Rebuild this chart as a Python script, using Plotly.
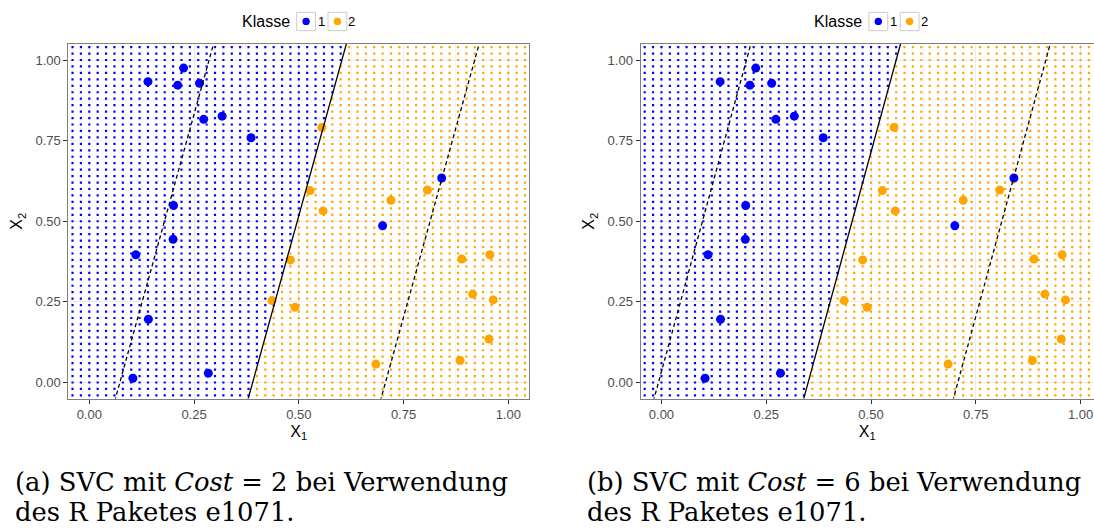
import numpy as np
import plotly.graph_objects as go

# Beobachtungen (X1, X2) je Klasse
klasse1_x1 = [0.140, 0.225, 0.211, 0.263, 0.273, 0.317, 0.386, 0.201, 0.200, 0.111, 0.141, 0.104, 0.284, 0.841, 0.700]
klasse1_x2 = [0.933, 0.975, 0.922, 0.928, 0.816, 0.826, 0.759, 0.549, 0.444, 0.396, 0.196, 0.013, 0.029, 0.634, 0.486]
klasse2_x1 = [0.480, 0.436, 0.491, 0.555, 0.527, 0.558, 0.720, 0.807, 0.889, 0.956, 0.915, 0.964, 0.954, 0.885, 0.684]
klasse2_x2 = [0.380, 0.254, 0.233, 0.791, 0.595, 0.532, 0.565, 0.597, 0.383, 0.396, 0.274, 0.256, 0.135, 0.068, 0.057]

# Lineare SVC-Entscheidungsfunktion f(x) = w1*x1 + w2*x2 + b
svc_cost = [2, 6]
svc_w1 = [3.155, 2.80]
svc_w2 = [-0.672, -0.588]
svc_b = [-1.230, -0.98]

# Vorhersagegitter
gitter_werte = np.round(np.arange(-0.04, 1.0401, 0.02), 2)

klassen = ["1", "2"]
farben = {"1": "#0000FF", "2": "#FFA500"}

W, H = 1094, 532
FONT = "Liberation Sans, Arial, sans-serif"


def px(x):
    return x / W


def py(y):
    return 1 - y / H


fig = go.Figure()

gx, gy = np.meshgrid(gitter_werte, gitter_werte)
gx, gy = gx.ravel(), gy.ravel()

for i in range(2):
    xa = "x" if i == 0 else "x2"
    ya = "y" if i == 0 else "y2"
    f = svc_w1[i] * gx + svc_w2[i] * gy + svc_b[i]
    vorhersage = np.where(f < 0, "1", "2")
    for k in klassen:
        m = vorhersage == k
        fig.add_trace(go.Scatter(
            x=gx[m], y=gy[m], mode="markers", xaxis=xa, yaxis=ya,
            marker=dict(color=farben[k], size=2.2, symbol="square", line=dict(width=0)),
            showlegend=False, hoverinfo="skip"))
    for k, xs, ys in (("1", klasse1_x1, klasse1_x2), ("2", klasse2_x1, klasse2_x2)):
        fig.add_trace(go.Scatter(
            x=xs, y=ys, mode="markers", xaxis=xa, yaxis=ya,
            marker=dict(color=farben[k], size=9, line=dict(width=0)),
            name=k, showlegend=False))
    # Trennebene (f=0) und Margins (f=+-1)
    y_linie = np.array([-0.1, 1.1])
    for niveau, stil in ((0, "solid"), (-1, "dash"), (1, "dash")):
        x_linie = (niveau - svc_b[i] - svc_w2[i] * y_linie) / svc_w1[i]
        fig.add_trace(go.Scatter(
            x=x_linie, y=y_linie, mode="lines", xaxis=xa, yaxis=ya,
            line=dict(color="black", width=1.3, dash="solid" if stil == "solid" else "4px,3px"),
            showlegend=False, hoverinfo="skip"))

achse = dict(
    showline=True, linecolor="#7F7F7F", linewidth=1,
    showgrid=True, gridcolor="#EBEBEB", gridwidth=1.1,
    minor=dict(dtick=0.125, showgrid=True, gridcolor="#F4F4F4", gridwidth=0.6),
    zeroline=False, ticks="outside", ticklen=4, tickwidth=1, tickcolor="#333333",
    tick0=0, dtick=0.25, tickformat=".2f",
    tickfont=dict(family=FONT, size=13, color="#4D4D4D"),
    title_font=dict(family=FONT, size=16, color="black"),
)

y_dom = [py(398.6), py(43.9)]
fig.update_layout(
    width=W, height=H, margin=dict(l=0, r=0, t=0, b=0),
    paper_bgcolor="white", plot_bgcolor="white", showlegend=False,
    xaxis=dict(achse, domain=[px(68.35), px(529.25)], range=[-0.05, 1.05], mirror=True,
               anchor="y", title=dict(text="X<sub>1</sub>", standoff=4)),
    yaxis=dict(achse, domain=y_dom, range=[-0.05, 1.05], mirror=True,
               anchor="x", title=dict(text="X<sub>2</sub>", standoff=8)),
    xaxis2=dict(achse, domain=[px(640.5), 1.0], range=[-0.05, 1.0321], mirror=True,
                anchor="y2", title=dict(text="X<sub>1</sub>", standoff=4)),
    yaxis2=dict(achse, domain=y_dom, range=[-0.05, 1.05], mirror=False,
                anchor="x2", title=dict(text="X<sub>2</sub>", standoff=8)),
)

# Legenden oberhalb der Panels
shapes = []
annotations = []
for off in (0.0, 572.2):
    annotations.append(dict(text="Klasse", x=px(266.2 + off), y=py(21), xref="paper", yref="paper",
                            showarrow=False, xanchor="center", yanchor="middle",
                            font=dict(family=FONT, size=16, color="black")))
    for j, (k, bx0, lx) in enumerate((("1", 296.7, 321.0), ("2", 328.0, 351.8))):
        shapes.append(dict(type="rect", xref="paper", yref="paper",
                           x0=px(bx0 + off), x1=px(bx0 + 18.8 + off), y0=py(30.7), y1=py(12.3),
                           line=dict(color="#CCCCCC", width=1), fillcolor="white"))
        cx = bx0 + 9.4 + off
        shapes.append(dict(type="circle", xref="paper", yref="paper",
                           x0=px(cx - 3.7), x1=px(cx + 3.7), y0=py(21.4 + 3.7), y1=py(21.4 - 3.7),
                           line=dict(width=0), fillcolor=farben[k]))
        annotations.append(dict(text=k, x=px(lx + off), y=py(21.5), xref="paper", yref="paper",
                                showarrow=False, xanchor="center", yanchor="middle",
                                font=dict(family=FONT, size=13, color="black")))

# Bildunterschriften
for buchstabe, cost, x0 in (("a", svc_cost[0], 12.7), ("b", svc_cost[1], 585.0)):
    zeilen = [f"({buchstabe}) SVC mit <i>Cost</i> = {cost} bei Verwendung", "des R Paketes e1071."]
    for z, yc in zip(zeilen, (482.0, 511.5)):
        annotations.append(dict(text=z, x=px(x0), y=py(yc), xref="paper", yref="paper",
                                showarrow=False, xanchor="left", yanchor="middle",
                                font=dict(family="DejaVu Serif", size=25.8, color="black")))

fig.update_layout(shapes=shapes, annotations=annotations)
fig.write_html("out.html")
